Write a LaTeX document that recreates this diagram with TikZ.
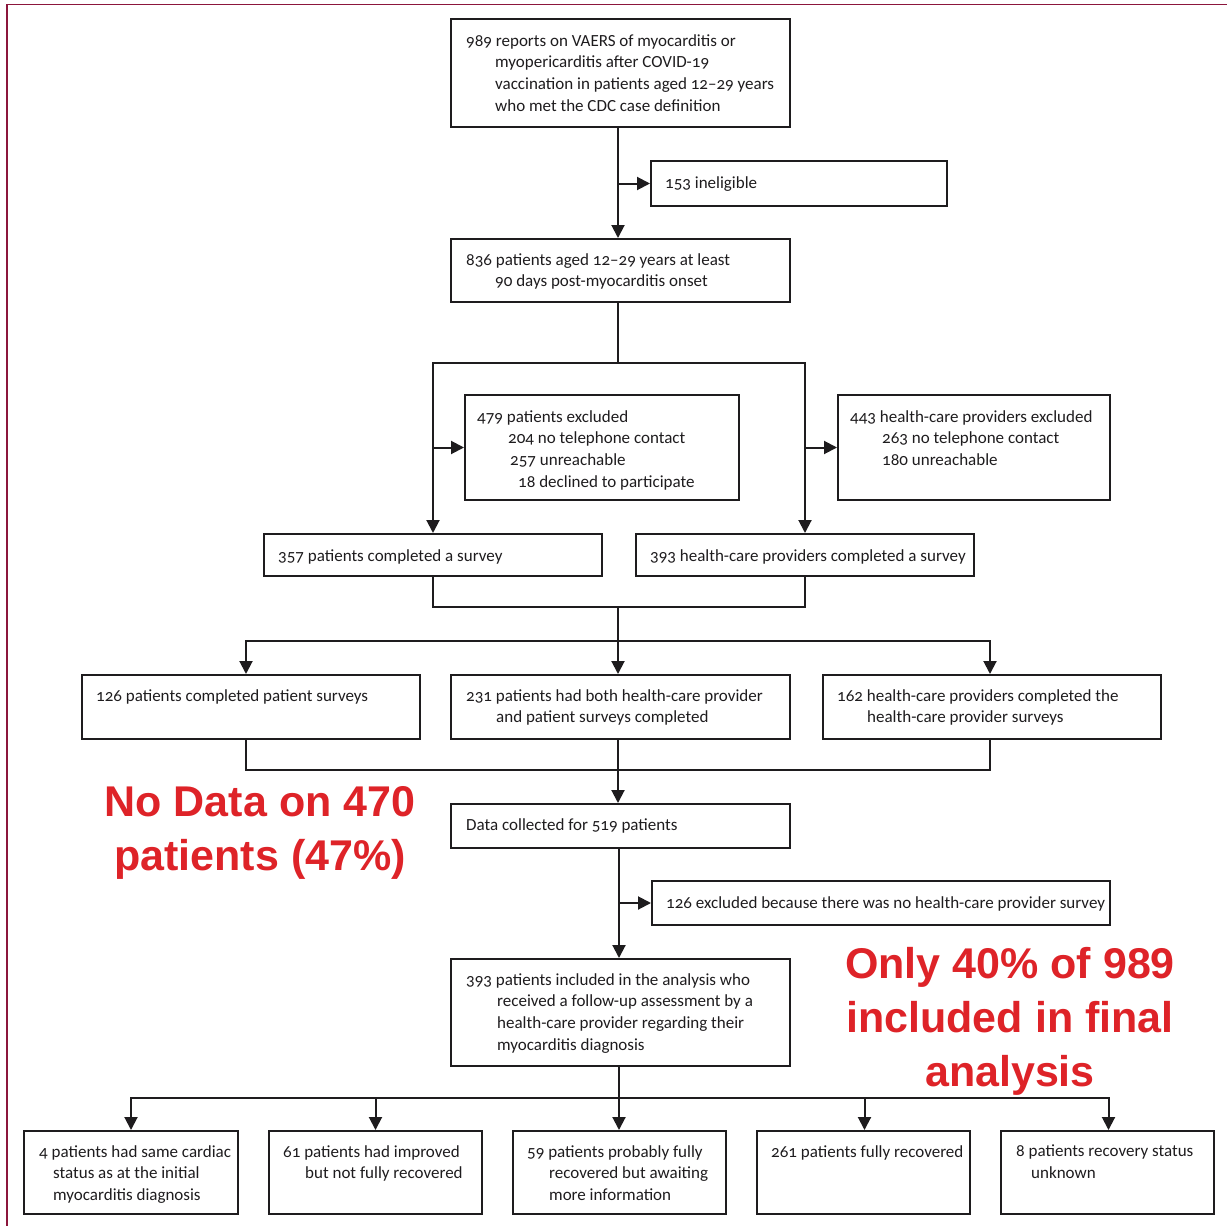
\documentclass[tikz,border=0pt]{standalone}
\usepackage{fontspec}
\setmainfont{Carlito}[Numbers=OldStyle]
\newfontfamily\alertfont{Liberation Sans}
\usetikzlibrary{arrows.meta,calc}
\definecolor{ink}{RGB}{30,28,30}
\definecolor{alertred}{RGB}{222,35,40}
\definecolor{framered}{RGB}{140,22,60}
\tikzset{
  box/.style={draw=ink, line width=2pt, anchor=north west, inner sep=0pt},
  txt/.style={anchor=north west, inner sep=0pt, align=left, text=ink, font=\fontsize{17}{21.8}\selectfont},
  ln/.style={draw=ink, line width=2pt},
  arr/.style={draw=ink, line width=2pt, -{Triangle[length=13pt,width=13pt]}},
  alerttxt/.style={anchor=north, inner sep=0pt, align=center, text=alertred, font=\alertfont\bfseries\fontsize{43}{54}\selectfont}
}
\begin{document}
\begin{tikzpicture}[x=1pt,y=-1pt]
\useasboundingbox (0,0) rectangle (1227,1226);
\fill[white] (0,0) rectangle (1227,1226);
\draw[framered, line width=1.2pt] (7,1226) -- (7,4.3) -- (1227,4.3);

% spine of the flow chart
\coordinate (spine) at (618,0);

% boxes
\node[box, minimum width=339pt, minimum height=108pt] (A) at (450,18) {};
\node[box, minimum width=296pt, minimum height=45pt] (inel) at (650,160) {};
\node[box, minimum width=339pt, minimum height=63pt] (B) at (450,238) {};
\node[box, minimum width=274pt, minimum height=105pt] (exP) at (464,394) {};
\node[box, minimum width=272pt, minimum height=105pt] (exH) at (837,394) {};
\node[box, minimum width=338pt, minimum height=42pt] (C) at (263,533) {};
\node[box, minimum width=338pt, minimum height=42pt] (D) at (635,533) {};
\node[box, minimum width=338pt, minimum height=64pt] (E1) at (81,674) {};
\node[box, minimum width=339pt, minimum height=64pt] (E2) at (450,674) {};
\node[box, minimum width=338pt, minimum height=64pt] (E3) at (822,674) {};
\node[box, minimum width=339pt, minimum height=44pt] (F) at (450,803) {};
\node[box, minimum width=458pt, minimum height=44pt] (H) at (651,880) {};
\node[box, minimum width=339pt, minimum height=107pt] (G) at (450,958) {};
\node[box, minimum width=214pt, minimum height=83pt] (K1) at (23,1130) {};
\node[box, minimum width=213pt, minimum height=83pt] (K2) at (268,1130) {};
\node[box, minimum width=213pt, minimum height=83pt] (K3) at (512,1130) {};
\node[box, minimum width=213pt, minimum height=83pt] (K4) at (756,1130) {};
\node[box, minimum width=213pt, minimum height=83pt] (K5) at (1000,1130) {};

% texts
\node[txt] (At) at (466,34) {989 reports on VAERS of myocarditis or\\\hspace*{29pt}myopericarditis after COVID-19\\\hspace*{29pt}vaccination in patients aged 12–29 years\\\hspace*{29pt}who met the CDC case definition};
\node[txt] (inelt) at (665,176) {153 ineligible};
\node[txt] (Bt) at (466,253) {836 patients aged 12–29 years at least\\\hspace*{29pt}90 days post-myocarditis onset};
\node[txt] (exPt) at (477,410) {479 patients excluded\\\hspace*{31pt}204 no telephone contact\\\hspace*{33pt}257 unreachable\\\hspace*{41pt}18 declined to participate};
\node[txt] (exHt) at (850,410) {443 health-care providers excluded\\\hspace*{32pt}263 no telephone contact\\\hspace*{32pt}180 unreachable};
\node[txt] (Ct) at (278,549) {357 patients completed a survey};
\node[txt] (Dt) at (650,549) {393 health-care providers completed a survey};
\node[txt] (E1t) at (96,689) {126 patients completed patient surveys};
\node[txt] (E2t) at (466,689) {231 patients had both health-care provider\\\hspace*{30pt}and patient surveys completed};
\node[txt] (E3t) at (837,689) {162 health-care providers completed the\\\hspace*{30pt}health-care provider surveys};
\node[txt] (Ft) at (466,818) {Data collected for 519 patients};
\node[txt] (Ht) at (666,896) {126 excluded because there was no health-care provider survey};
\node[txt] (Gt) at (466,973) {393 patients included in the analysis who\\\hspace*{31pt}received a follow-up assessment by a\\\hspace*{31pt}health-care provider regarding their\\\hspace*{31pt}myocarditis diagnosis};
\node[txt] (K1t) at (39,1145) {4 patients had same cardiac\\\hspace*{14pt}status as at the initial\\\hspace*{14pt}myocarditis diagnosis};
\node[txt] (K2t) at (283,1145) {61 patients had improved\\\hspace*{22pt}but not fully recovered};
\node[txt] (K3t) at (527,1145) {59 patients probably fully\\\hspace*{22pt}recovered but awaiting\\\hspace*{22pt}more information};
\node[txt] (K4t) at (771,1145) {261 patients fully recovered};
\node[txt] (K5t) at (1016,1145) {8 patients recovery status\\\hspace*{15pt}unknown};

% red annotations
\node[alerttxt] (nodata) at (260,786) {No Data on 470\\patients (47\%)};
\node[alerttxt] (only) at (1010,947) {Only 40\% of 989\\included in final\\analysis};

% connectors
\draw[arr] (A.south -| spine) -- (B.north -| spine);
\draw[arr] (spine |- inel.west) -- (inel.west);
\coordinate (jB) at (spine |- 0,363);
\draw[ln] (B.south -| spine) -- (jB);
\draw[arr] (jB) -| (C.north);
\draw[arr] (jB) -| (D.north);
\draw[arr] (C.north |- exP.west) -- (exP.west);
\draw[arr] (D.north |- exH.west) -- (exH.west);
\coordinate (jCD) at (spine |- 0,607);
\draw[ln] (C.south) |- (jCD) -| (D.south);
\draw[arr] (jCD) -- (E2.north -| spine);
\coordinate (jE) at (spine |- 0,641);
\draw[arr] (jE) -| ([xshift=-5pt]E1.north);
\draw[arr] (jE) -| ([xshift=-2pt]E3.north);
\coordinate (jF) at (spine |- 0,770);
\draw[ln] ([xshift=-5pt]E1.south) |- (jF) -| ([xshift=-2pt]E3.south);
\draw[arr] (E2.south -| spine) -- (F.north -| spine);
\draw[arr] ([xshift=1pt]F.south -| spine) -- ([xshift=1pt]G.north -| spine);
\draw[arr] ([xshift=1pt]spine |- H.west) -- (H.west);
\coordinate (jG) at ([xshift=1pt]spine |- 0,1098);
\draw[ln] ([xshift=1pt]G.south -| spine) -- (jG);
\draw[arr] (jG) -| (K1.north);
\draw[arr] (jG) -| (K2.north);
\draw[arr] (jG) -- (jG |- K3.north);
\draw[arr] (jG) -| ([xshift=1pt]K4.north);
\draw[arr] (jG) -| ([xshift=1pt]K5.north);
\end{tikzpicture}
\end{document}
